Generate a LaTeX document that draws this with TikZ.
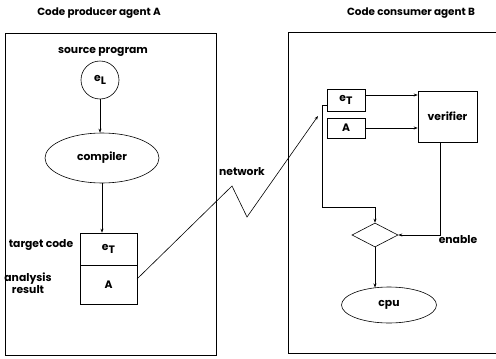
\documentclass[tikz,border=0pt]{standalone}
\usepackage{fontspec}
\setmainfont{Poppins}
\usetikzlibrary{shapes.geometric,arrows.meta,calc}
\tikzset{
  lbl/.style={font=\bfseries\fontsize{10.8}{12}\selectfont, inner sep=0pt},
  ttl/.style={font=\bfseries\fontsize{10.4}{12}\selectfont, inner sep=0pt},
  cell/.style={draw, line width=0.6pt, inner sep=0pt, font=\bfseries\fontsize{10.8}{12}\selectfont},
  oval/.style={draw, ellipse, line width=0.6pt, inner sep=0pt, font=\bfseries\fontsize{10.8}{12}\selectfont},
  conn/.style={line width=0.6pt},
  arr/.style={line width=0.6pt, -{Stealth[length=4pt,width=3pt]}},
  frame/.style={line width=0.8pt}
}
\newcommand{\sub}[2]{#1\raisebox{-0.55ex}{#2}}
\begin{document}
\begin{tikzpicture}[x=1pt,y=-1pt]
\useasboundingbox (0,0) rectangle (496,359);
% titles
\node[ttl] (tA) at (99,13) {Code producer agent A};
\node[ttl] (tB) at (411,13) {Code consumer agent B};
% producer frame
\draw[frame] (5,33) rectangle (216,355);
\node[lbl] (src) at (103,52) {source program};
\node[draw, circle, line width=0.6pt, minimum size=38pt, inner sep=0pt, font=\bfseries\fontsize{10.8}{12}\selectfont] (eL) at (100,80) {\sub{e}{L}};
\node[oval, minimum width=114pt, minimum height=50pt] (comp) at (102,158) {compiler};
\node[cell, minimum width=57pt, minimum height=32pt] (eTa) at (108.5,249) {\sub{e}{T}};
\node[cell, minimum width=57pt, minimum height=39pt] (Aa) at (108.5,284.5) {A};
\node[lbl] (tc) at (41,245) {target code};
\node[lbl, align=center] (ar) at (28,283) {analysis\\result};
\draw[arr] (eL.south) -- (eL.south |- comp.north);
\draw[arr] (comp.south) -- (comp.south |- eTa.north);
% network
\coordinate (net) at (318,116);
\coordinate (aout) at (137,279);
\draw[arr] (aout) -- (232,186) -- (247,217) -- (net);
\node[lbl] (nw) at (242,172) {network};
% consumer frame
\draw[frame] (497,32) -- (288,32) -- (288,353) -- (497,353);
\node[cell, minimum width=38pt, minimum height=22pt] (eTb) at (346,100) {\sub{e}{T}};
\node[cell, minimum width=38pt, minimum height=20pt] (Ab) at (346,128) {A};
\node[cell, minimum width=59pt, minimum height=51pt] (ver) at (447.5,116.5) {verifier};
\node[draw, diamond, aspect=1.9, line width=0.6pt, minimum width=46pt, minimum height=24pt, inner sep=0pt] (dia) at (375,235) {};
\node[oval, minimum width=95pt, minimum height=36pt] (cpu) at (389,305) {cpu};
\node[lbl] (en) at (458,240) {enable};
\coordinate (eTout) at (365,95);
\coordinate (eTleft) at (327,105);
\coordinate (verdown) at (440,142);
\draw[arr] (eTout) -- (eTout -| ver.west);
\draw[arr] (Ab.east) -- (Ab.east -| ver.west);
\draw[arr] (eTleft) -- ++(-5,0) |- (375,207) -- (dia.north);
\draw[arr] (verdown) |- (dia.east);
\draw[arr] (dia.south) -- (dia.south |- cpu.129);
\end{tikzpicture}
\end{document}
